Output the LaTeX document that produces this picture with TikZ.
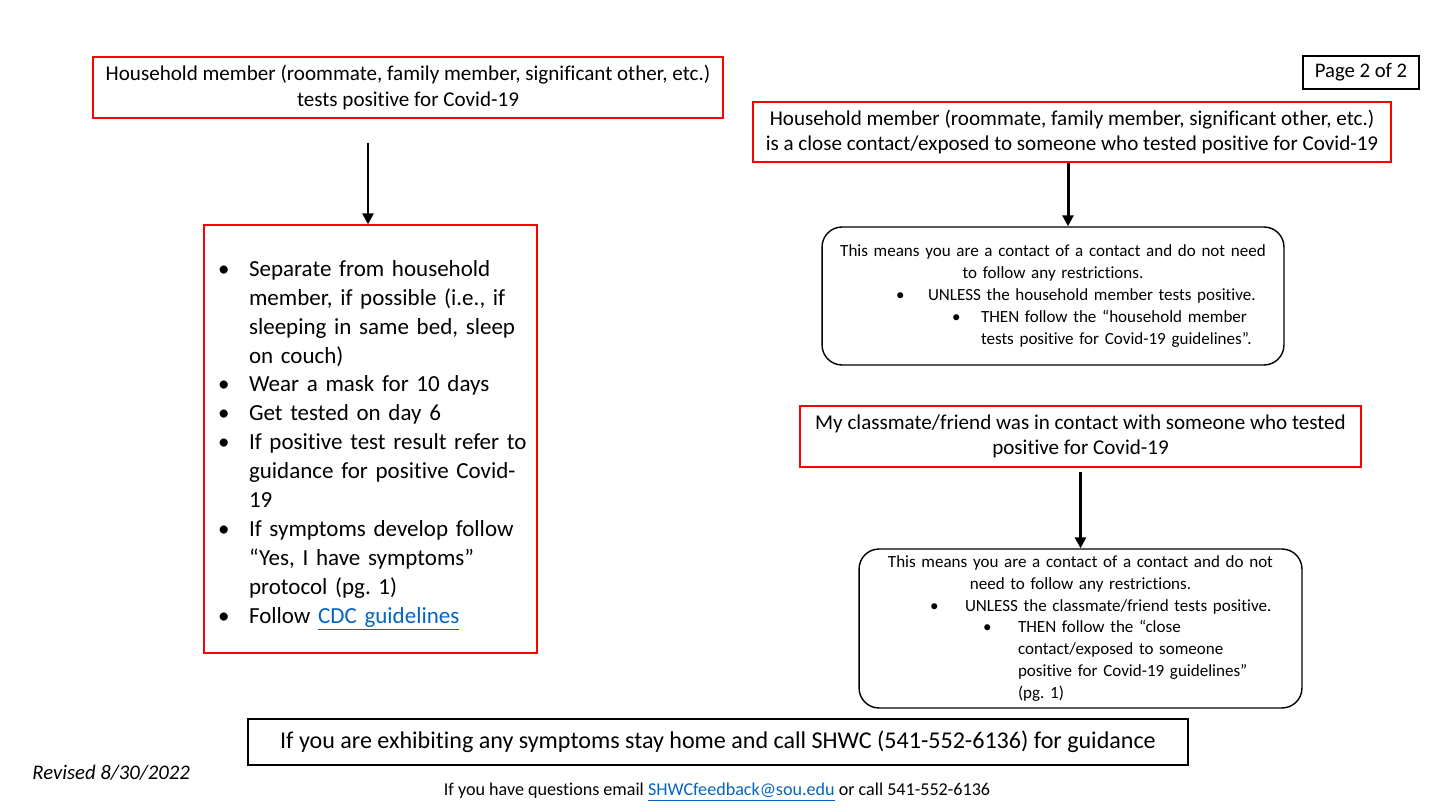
\documentclass[tikz,border=0pt]{standalone}
\usepackage{fontspec}
\setmainfont{Carlito}[Ligatures=NoCommon]
\newfontfamily\listfont{Carlito}[Ligatures=NoCommon,WordSpace=0.7]
\usetikzlibrary{arrows.meta,calc}
\definecolor{linkblue}{RGB}{5,99,193}
\frenchspacing
\newcommand{\bul}[3]{\par\noindent\hangindent=#2\hangafter=1\hspace*{#1}\makebox[\dimexpr#2-#1\relax][l]{\textbullet}#3}
\newcommand{\weblink}[1]{\textcolor{linkblue}{\underline{#1}}}

\begin{document}
\begin{tikzpicture}
  [x=0.02cm,y=-0.02cm,
    redbox/.style={draw=red,line width=0.8pt,inner sep=0pt,align=center,
      font=\fontsize{12}{14.5}\selectfont},
    blackbox/.style={draw=black,line width=0.8pt,inner sep=0pt,align=center},
    roundbox/.style={draw=black,line width=0.8pt,rounded corners=0.4cm,inner sep=0pt,
      align=left,font=\fontsize{9.7}{12.4}\selectfont},
    arrow/.style={line width=1.7pt,-{Triangle[length=0.22cm,width=0.22cm]}},
  ]
  \useasboundingbox (0,0) rectangle (1440,810);

  \node[redbox, minimum width=12.6cm, minimum height=1.22cm] (hhpos) at (408,87.5)
    {Household member (roommate, family member, significant other, etc.)\\tests positive for Covid-19};
  \node[draw=red, line width=0.8pt, inner sep=0pt, minimum width=6.66cm, minimum height=8.56cm,
    text width=6.66cm, align=left, font=\listfont\fontsize{13.1}{16.45}\selectfont] (hhlist) at (370.5,439)
    {\bul{0.28cm}{0.9cm}{Separate from household\newline member, if possible (i.e., if\newline sleeping in same bed, sleep\newline on couch)}
     \bul{0.28cm}{0.9cm}{Wear a mask for 10 days}
     \bul{0.28cm}{0.9cm}{Get tested on day 6}
     \bul{0.28cm}{0.9cm}{If positive test result refer to\newline guidance for positive Covid-\newline 19}
     \bul{0.28cm}{0.9cm}{If symptoms develop follow\newline “Yes, I have symptoms”\newline protocol (pg. 1)}
     \bul{0.28cm}{0.9cm}{Follow \weblink{CDC guidelines}}\par};

  \node[blackbox, minimum width=2.32cm, minimum height=0.66cm,
    font=\fontsize{11.8}{13}\selectfont] (page) at (1361,72.5) {Page 2 of 2};

  \node[redbox, minimum width=12.76cm, minimum height=1.2cm] (hhexp) at (1072,132)
    {Household member (roommate, family member, significant other, etc.)\\is a close contact/exposed to someone who tested positive for Covid-19};
  \node[roundbox, minimum width=9.24cm, minimum height=2.76cm, text width=9.24cm] (cc1) at (1053,296)
    {{\centering This means you are a contact of a contact and do not need\\to follow any restrictions.\par}
     \bul{1.48cm}{2.12cm}{UNLESS the household member tests positive.}
     \bul{2.6cm}{3.18cm}{THEN follow the “household member\newline tests positive for Covid-19 guidelines”.}\par};

  \node[redbox, minimum width=11.22cm, minimum height=1.22cm] (friend) at (1080.5,436.5)
    {My classmate/friend was in contact with someone who tested\\positive for Covid-19};
  \node[roundbox, minimum width=8.86cm, minimum height=3.18cm, text width=8.86cm] (cc2) at (1080.5,628.5)
    {{\centering This means you are a contact of a contact and do not\\need to follow any restrictions.\par}
     \bul{1.42cm}{2.12cm}{UNLESS the classmate/friend tests positive.}
     \bul{2.48cm}{3.18cm}{THEN follow the “close\newline contact/exposed to someone\newline positive for Covid-19 guidelines”\newline (pg. 1)}\par};

  \node[blackbox, minimum width=18.8cm, minimum height=0.92cm,
    font=\fontsize{13.7}{15}\selectfont] (symptoms) at (718,742)
    {If you are exhibiting any symptoms stay home and call SHWC (541-552-6136) for guidance};
  \node[anchor=west, inner sep=0pt, font=\fontsize{11.8}{13}\selectfont\itshape] (revised) at (32,773)
    {Revised 8/30/2022};
  \node[inner sep=0pt, font=\fontsize{10.3}{12}\selectfont] (contact) at (717,792)
    {If you have questions email \weblink{SHWCfeedback@sou.edu} or call 541-552-6136};

  \coordinate (a1) at (368,143);
  \coordinate (a2) at ($(hhexp.south)+(-4,0)$);
  \coordinate (a3) at ($(friend.south)+(0,4)$);
  \draw[arrow] (a1) -- (a1 |- hhlist.north);
  \draw[arrow] (a2) -- (a2 |- cc1.north);
  \draw[arrow] (a3) -- (cc2.north);
\end{tikzpicture}
\end{document}
